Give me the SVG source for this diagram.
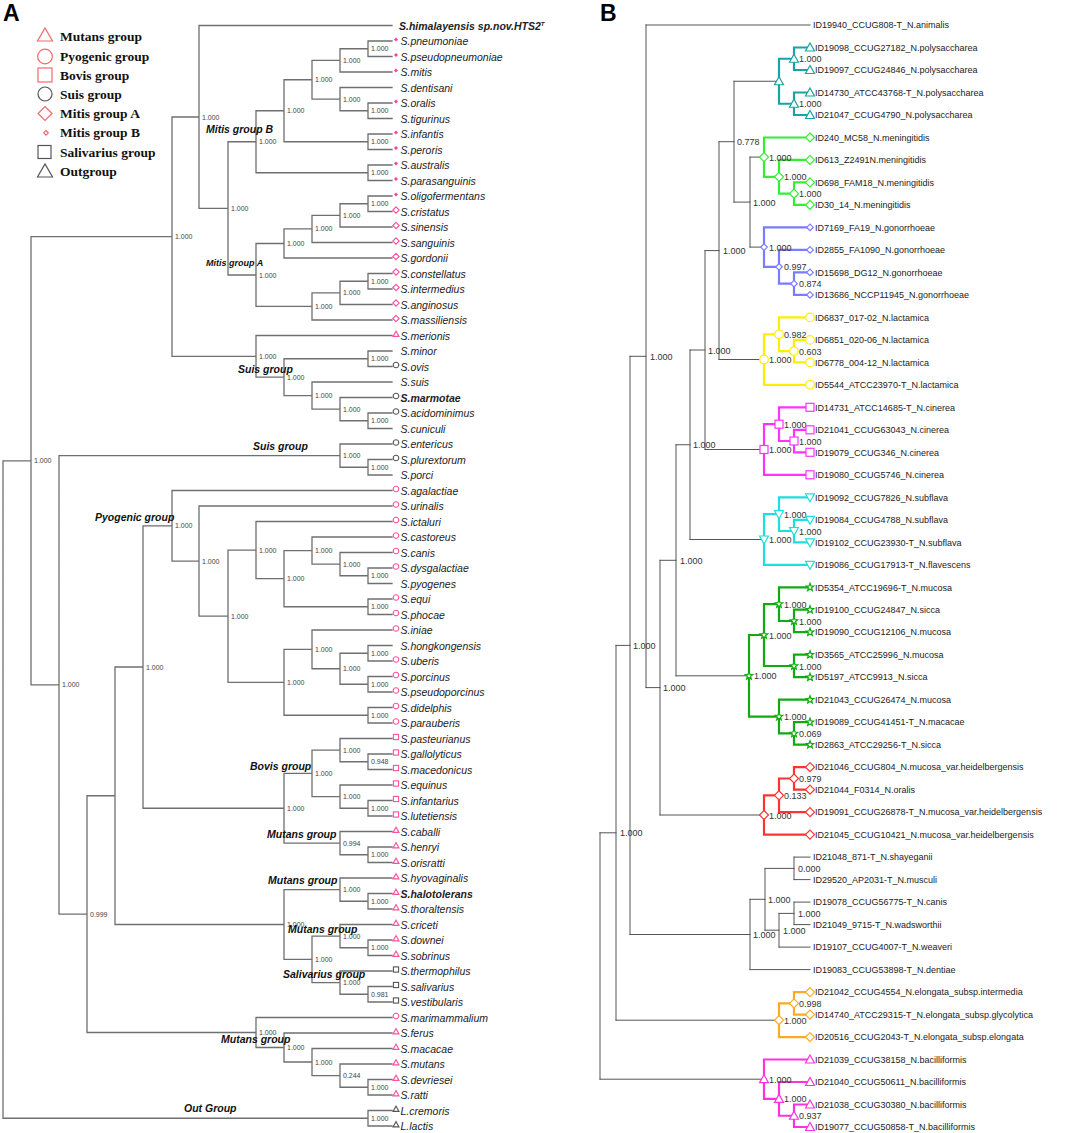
<svg xmlns="http://www.w3.org/2000/svg" xmlns:xlink="http://www.w3.org/1999/xlink" width="1079" height="1133" viewBox="0 0 1079 1133">
<style>
.bg{fill:#fff}
.pl{font:bold 23px "Liberation Sans",Arial,sans-serif;fill:#000}
.lg{font:bold 13.5px "Liberation Serif","Times New Roman",serif;fill:#111}
.ta{fill:none;stroke:#6f6f6f;stroke-width:1.3;stroke-linecap:square}
.tb{fill:none;stroke:#555;stroke-width:1;stroke-linecap:square}
.cl{fill:none;stroke-width:2.2;stroke-linecap:square}
.la{font:italic 10.5px "Liberation Sans",Arial,sans-serif;fill:#222}
.bd{font-weight:bold}
.sa{font:7px "Liberation Sans",Arial,sans-serif;fill:#444}
.ga{font:bold italic 10.5px "Liberation Sans",Arial,sans-serif;fill:#111}
.lb{font:9px "Liberation Sans",Arial,sans-serif;fill:#222}
.sb{font:9px "Liberation Sans",Arial,sans-serif;fill:#333}
.am{fill:#fff;stroke-width:1.1}
.pk{stroke:#ff4f9f}
.gy{stroke:#555}
.pdot{fill:#ff3d9a;stroke:none}
.mk{fill:#fff;stroke-width:1.2}
.teal{stroke:#1aa3a3}
.men{stroke:#33ee33}
.gon{stroke:#7b7bff}
.lac{stroke:#ffee00}
.cin{stroke:#ff33ff}
.sub{stroke:#22dddd}
.muc{stroke:#11aa11}
.red{stroke:#ff3333}
.ora{stroke:#ffaa22}
.bac{stroke:#ff33dd}
</style>
<defs>
<path id="a-dot" d="M0,-2L2,0L0,2L-2,0Z"/>
<path id="a-dia" d="M0,-3.2L3.2,0L0,3.2L-3.2,0Z"/>
<path id="a-tri" d="M-3,2.4L3,2.4L0,-2.8Z"/>
<circle id="a-cir" r="2.8"/>
<rect id="a-sq" x="-2.6" y="-2.6" width="5.2" height="5.2"/>
<path id="b-tri" d="M0,-4.5L4.5,3.5L-4.5,3.5Z"/>
<path id="b-itri" d="M0,4.5L4.5,-3.5L-4.5,-3.5Z"/>
<path id="b-dia" d="M0,-4.5L4.5,0L0,4.5L-4.5,0Z"/>
<path id="b-sdia" d="M0,-3.3L3.3,0L0,3.3L-3.3,0Z"/>
<circle id="b-cir" r="4.3"/>
<rect id="b-sq" x="-4" y="-4" width="8" height="8"/>
<path id="b-star" d="M0,-4L1,-1.38L3.8,-1.24L1.62,0.53L2.35,3.24L0,1.7L-2.35,3.24L-1.62,0.53L-3.8,-1.24L-1,-1.38Z"/>
</defs>
<rect class="bg" x="0" y="0" width="1079" height="1133"/>
<text class="pl" x="3" y="21">A</text>
<text class="pl" x="600" y="21">B</text>

<g id="legend">
<polygon points="37.5,41 52.5,41 45,28" fill="none" stroke="#f26a6a" stroke-width="1.2"/>
<text class="lg" x="60" y="40.5">Mutans group</text>
<circle cx="45" cy="56.5" r="7.3" fill="none" stroke="#f26a6a" stroke-width="1.2"/>
<text class="lg" x="60" y="60.5">Pyogenic group</text>
<rect x="38" y="68" width="14" height="14" fill="none" stroke="#f26a6a" stroke-width="1.2"/>
<text class="lg" x="60" y="79.5">Bovis group</text>
<circle cx="45" cy="94" r="7" fill="none" stroke="#555" stroke-width="1.2"/>
<text class="lg" x="60" y="98.5">Suis group</text>
<polygon points="45,106.5 52,113.5 45,120.5 38,113.5" fill="none" stroke="#f26a6a" stroke-width="1.2"/>
<text class="lg" x="60" y="117.5">Mitis group A</text>
<polygon points="46,130.5 48.3,132.8 46,135.1 43.7,132.8" fill="none" stroke="#f26a6a" stroke-width="1.2"/>
<text class="lg" x="60" y="136.5">Mitis group B</text>
<rect x="38" y="145.5" width="13" height="13" fill="none" stroke="#555" stroke-width="1.2"/>
<text class="lg" x="60" y="156.5">Salivarius group</text>
<polygon points="37.5,177 52.5,177 45,164" fill="none" stroke="#555" stroke-width="1.2"/>
<text class="lg" x="60" y="175.5">Outgroup</text>
</g>

<g id="a-edges">
<path class="ta" d="M3,460.8V1118.25
M3,460.8H31M31,236.7V684.9
M31,236.7H172M172,117V356.4
M172,117H199M199,25.5V208.4
M199,25.5H392
M199,208.4H228M228,141.75V275
M228,141.75H256M256,110.75V172.75
M256,110.75H284M284,79.75V141.75
M284,79.75H312M312,60.4V99.1
M312,60.4H340M340,48.75V72
M340,48.75H368M368,41V56.5M368,41H392M368,56.5H392
M340,72H392
M312,99.1H340M340,87.5V110.75M340,87.5H392
M340,110.75H368M368,103V118.5M368,103H392M368,118.5H392
M284,141.75H368M368,134V149.5M368,134H392M368,149.5H392
M256,172.75H368M368,165V180.5M368,165H392M368,180.5H392
M228,275H256M256,243.5V306.4
M256,243.5H284M284,228.9V258M284,258H392
M284,228.9H312M312,215.4V242.5M312,242.5H392
M312,215.4H340M340,203.75V227M340,227H392
M340,203.75H368M368,196V211.5M368,196H392M368,211.5H392
M256,306.4H312M312,292.9V320M312,320H392
M312,292.9H340M340,281.25V304.5M340,304.5H392
M340,281.25H368M368,273.5V289M368,273.5H392M368,289H392
M172,356.4H256M256,335.5V377.2M256,335.5H392
M256,377.2H284M284,358.75V395.6
M284,358.75H368M368,351V366.5M368,351H392M368,366.5H392
M284,395.6H312M312,382V409.1M312,382H392
M312,409.1H340M340,397.5V420.75M340,397.5H392
M340,420.75H368M368,413V428.5M368,413H392M368,428.5H392
M31,684.9H59M59,455.6V914.1
M59,455.6H340M340,444V467.25M340,444H392
M340,467.25H368M368,459.5V475M368,459.5H392M368,475H392
M59,914.1H87M87,795.75V1032.5
M87,795.75H115M115,667V924.5
M115,667H143M143,525.8V808.25
M143,525.8H172M172,490.5V561.1M172,490.5H392
M172,561.1H199M199,506V616.2M199,506H392
M199,616.2H228M228,550.1V682.3
M228,550.1H256M256,521.5V578.7M256,521.5H392
M256,578.7H284M284,550.6V606.75
M284,550.6H312M312,537V564.1M312,537H392
M312,564.1H340M340,552.5V575.75M340,552.5H392
M340,575.75H368M368,568V583.5M368,568H392M368,583.5H392
M284,606.75H368M368,599V614.5M368,599H392M368,614.5H392
M228,682.3H284M284,649.4V715.25
M284,649.4H312M312,630V668.75M312,630H392
M312,668.75H340M340,653.25V684.25
M340,653.25H368M368,645.5V661M368,645.5H392M368,661H392
M340,684.25H368M368,676.5V692M368,676.5H392M368,692H392
M284,715.25H368M368,707.5V723M368,707.5H392M368,723H392
M143,808.25H284M284,773.4V843.1
M284,773.4H312M312,750.1V796.6
M312,750.1H340M340,738.5V761.75M340,738.5H392
M340,761.75H368M368,754V769.5M368,754H392M368,769.5H392
M312,796.6H340M340,785V808.25M340,785H392
M340,808.25H368M368,800.5V816M368,800.5H392M368,816H392
M284,843.1H340M340,831.5V854.75M340,831.5H392
M340,854.75H368M368,847V862.5M368,847H392M368,862.5H392
M115,924.5H284M284,889.6V959.4
M284,889.6H340M340,878V901.25M340,878H392
M340,901.25H368M368,893.5V909M368,893.5H392M368,909H392
M284,959.4H312M312,936.1V982.6
M312,936.1H340M340,924.5V947.75M340,924.5H392
M340,947.75H368M368,940V955.5M368,940H392M368,955.5H392
M312,982.6H340M340,971V994.25M340,971H392
M340,994.25H368M368,986.5V1002M368,986.5H392M368,1002H392
M87,1032.5H256M256,1017.5V1047.5M256,1017.5H392
M256,1047.5H284M284,1033V1062M284,1033H392
M284,1062H312M312,1048.5V1075.6M312,1048.5H392
M312,1075.6H340M340,1064V1087.25M340,1064H392
M340,1087.25H368M368,1079.5V1095M368,1079.5H392M368,1095H392
M3,1118.25H368M368,1110.5V1126M368,1110.5H392M368,1126H392"/>
</g>

<g id="a-support">
<text class="sa" x="371" y="51.2">1.000</text>
<text class="sa" x="343" y="62.9">1.000</text>
<text class="sa" x="371" y="113.2">1.000</text>
<text class="sa" x="343" y="101.6">1.000</text>
<text class="sa" x="315" y="82.2">1.000</text>
<text class="sa" x="371" y="144.2">1.000</text>
<text class="sa" x="287" y="113.2">1.000</text>
<text class="sa" x="371" y="175.2">1.000</text>
<text class="sa" x="259" y="144.2">1.000</text>
<text class="sa" x="371" y="206.2">1.000</text>
<text class="sa" x="343" y="217.9">1.000</text>
<text class="sa" x="315" y="231.4">1.000</text>
<text class="sa" x="287" y="246">1.000</text>
<text class="sa" x="371" y="283.7">1.000</text>
<text class="sa" x="343" y="295.4">1.000</text>
<text class="sa" x="315" y="308.9">1.000</text>
<text class="sa" x="259" y="277.5">1.000</text>
<text class="sa" x="231" y="210.9">1.000</text>
<text class="sa" x="202" y="119.5">1.000</text>
<text class="sa" x="371" y="361.2">1.000</text>
<text class="sa" x="371" y="423.2">1.000</text>
<text class="sa" x="343" y="411.6">1.000</text>
<text class="sa" x="315" y="398.1">1.000</text>
<text class="sa" x="287" y="379.7">1.000</text>
<text class="sa" x="259" y="358.9">1.000</text>
<text class="sa" x="175" y="239.2">1.000</text>
<text class="sa" x="371" y="469.7">1.000</text>
<text class="sa" x="343" y="458.1">1.000</text>
<text class="sa" x="371" y="578.2">1.000</text>
<text class="sa" x="343" y="566.6">1.000</text>
<text class="sa" x="315" y="553.1">1.000</text>
<text class="sa" x="371" y="609.2">1.000</text>
<text class="sa" x="287" y="581.2">1.000</text>
<text class="sa" x="259" y="552.6">1.000</text>
<text class="sa" x="371" y="655.7">1.000</text>
<text class="sa" x="371" y="686.7">1.000</text>
<text class="sa" x="343" y="671.2">1.000</text>
<text class="sa" x="315" y="651.9">1.000</text>
<text class="sa" x="371" y="717.7">1.000</text>
<text class="sa" x="287" y="684.8">1.000</text>
<text class="sa" x="231" y="618.7">1.000</text>
<text class="sa" x="202" y="563.6">1.000</text>
<text class="sa" x="175" y="528.3">1.000</text>
<text class="sa" x="371" y="764.2">0.948</text>
<text class="sa" x="343" y="752.6">1.000</text>
<text class="sa" x="371" y="810.7">1.000</text>
<text class="sa" x="343" y="799.1">1.000</text>
<text class="sa" x="315" y="775.9">1.000</text>
<text class="sa" x="371" y="857.2">1.000</text>
<text class="sa" x="343" y="845.6">0.994</text>
<text class="sa" x="287" y="810.7">1.000</text>
<text class="sa" x="146" y="669.5">1.000</text>
<text class="sa" x="371" y="903.7">1.000</text>
<text class="sa" x="343" y="892.1">1.000</text>
<text class="sa" x="371" y="950.2">1.000</text>
<text class="sa" x="343" y="938.6">1.000</text>
<text class="sa" x="371" y="996.7">0.981</text>
<text class="sa" x="343" y="985.1">1.000</text>
<text class="sa" x="315" y="961.9">1.000</text>
<text class="sa" x="287" y="927">1.000</text>
<text class="sa" x="371" y="1089.7">1.000</text>
<text class="sa" x="343" y="1078.1">0.244</text>
<text class="sa" x="315" y="1064.5">1.000</text>
<text class="sa" x="287" y="1050">1.000</text>
<text class="sa" x="259" y="1035">1.000</text>
<text class="sa" x="90" y="916.6">0.999</text>
<text class="sa" x="62" y="687.4">1.000</text>
<text class="sa" x="34" y="463.3">1.000</text>
<text class="sa" x="371" y="1120.7">1.000</text>
</g>

<g id="a-groups">
<text class="ga" x="206" y="132.5">Mitis group B</text>
<text class="ga" x="206" y="266" style="font-size:9px">Mitis group A</text>
<text class="ga" x="238" y="372.5">Suis group</text>
<text class="ga" x="253" y="449.5">Suis group</text>
<text class="ga" x="95" y="520.5">Pyogenic group</text>
<text class="ga" x="250" y="769.5">Bovis group</text>
<text class="ga" x="267" y="837.5">Mutans group</text>
<text class="ga" x="268" y="883.5">Mutans group</text>
<text class="ga" x="288" y="932.5">Mutans group</text>
<text class="ga" x="283" y="977.5">Salivarius group</text>
<text class="ga" x="221" y="1042.5">Mutans group</text>
<text class="ga" x="184" y="1111.5">Out Group</text>
</g>

<g id="a-leaves">
<g id="a-himalayensis"><text class="la bd" x="399" y="29.5">S.himalayensis sp.nov.HTS2<tspan dy="-4" style="font-size:6px">T</tspan></text></g>
<g id="a-pneumoniae"><use href="#a-dot" class="pdot" x="396" y="39.5"/><text class="la" x="400.5" y="45">S.pneumoniae</text></g>
<g id="a-pseudopneumoniae"><use href="#a-dot" class="pdot" x="396" y="55"/><text class="la" x="400.5" y="60.5">S.pseudopneumoniae</text></g>
<g id="a-mitis"><use href="#a-dot" class="pdot" x="396" y="70.5"/><text class="la" x="400.5" y="76">S.mitis</text></g>
<g id="a-dentisani"><text class="la" x="400.5" y="91.5">S.dentisani</text></g>
<g id="a-oralis"><use href="#a-dot" class="pdot" x="396" y="101.5"/><text class="la" x="400.5" y="107">S.oralis</text></g>
<g id="a-tigurinus"><text class="la" x="400.5" y="122.5">S.tigurinus</text></g>
<g id="a-infantis"><use href="#a-dot" class="pdot" x="396" y="132.5"/><text class="la" x="400.5" y="138">S.infantis</text></g>
<g id="a-peroris"><use href="#a-dot" class="pdot" x="396" y="148"/><text class="la" x="400.5" y="153.5">S.peroris</text></g>
<g id="a-australis"><use href="#a-dot" class="pdot" x="396" y="163.5"/><text class="la" x="400.5" y="169">S.australis</text></g>
<g id="a-parasanguinis"><use href="#a-dot" class="pdot" x="396" y="179"/><text class="la" x="400.5" y="184.5">S.parasanguinis</text></g>
<g id="a-oligofermentans"><use href="#a-dot" class="pdot" x="396" y="194.5"/><text class="la" x="400.5" y="200">S.oligofermentans</text></g>
<g id="a-cristatus"><use href="#a-dia" class="am pk" x="396" y="210"/><text class="la" x="400.5" y="215.5">S.cristatus</text></g>
<g id="a-sinensis"><use href="#a-dia" class="am pk" x="396" y="225.5"/><text class="la" x="400.5" y="231">S.sinensis</text></g>
<g id="a-sanguinis"><use href="#a-dia" class="am pk" x="396" y="241"/><text class="la" x="400.5" y="246.5">S.sanguinis</text></g>
<g id="a-gordonii"><use href="#a-dia" class="am pk" x="396" y="256.5"/><text class="la" x="400.5" y="262">S.gordonii</text></g>
<g id="a-constellatus"><use href="#a-dia" class="am pk" x="396" y="272"/><text class="la" x="400.5" y="277.5">S.constellatus</text></g>
<g id="a-intermedius"><use href="#a-dia" class="am pk" x="396" y="287.5"/><text class="la" x="400.5" y="293">S.intermedius</text></g>
<g id="a-anginosus"><use href="#a-dia" class="am pk" x="396" y="303"/><text class="la" x="400.5" y="308.5">S.anginosus</text></g>
<g id="a-massiliensis"><use href="#a-dia" class="am pk" x="396" y="318.5"/><text class="la" x="400.5" y="324">S.massiliensis</text></g>
<g id="a-merionis"><use href="#a-tri" class="am pk" x="396" y="334"/><text class="la" x="400.5" y="339.5">S.merionis</text></g>
<g id="a-minor"><text class="la" x="400.5" y="355">S.minor</text></g>
<g id="a-ovis"><use href="#a-cir" class="am gy" x="396" y="365"/><text class="la" x="400.5" y="370.5">S.ovis</text></g>
<g id="a-suis"><text class="la" x="400.5" y="386">S.suis</text></g>
<g id="a-marmotae"><use href="#a-cir" class="am gy" x="396" y="396"/><text class="la bd" x="400.5" y="401.5">S.marmotae</text></g>
<g id="a-acidominimus"><use href="#a-cir" class="am gy" x="396" y="411.5"/><text class="la" x="400.5" y="417">S.acidominimus</text></g>
<g id="a-cuniculi"><text class="la" x="400.5" y="432.5">S.cuniculi</text></g>
<g id="a-entericus"><use href="#a-cir" class="am gy" x="396" y="442.5"/><text class="la" x="400.5" y="448">S.entericus</text></g>
<g id="a-plurextorum"><use href="#a-cir" class="am gy" x="396" y="458"/><text class="la" x="400.5" y="463.5">S.plurextorum</text></g>
<g id="a-porci"><text class="la" x="400.5" y="479">S.porci</text></g>
<g id="a-agalactiae"><use href="#a-cir" class="am pk" x="396" y="489"/><text class="la" x="400.5" y="494.5">S.agalactiae</text></g>
<g id="a-urinalis"><use href="#a-cir" class="am pk" x="396" y="504.5"/><text class="la" x="400.5" y="510">S.urinalis</text></g>
<g id="a-ictaluri"><use href="#a-cir" class="am pk" x="396" y="520"/><text class="la" x="400.5" y="525.5">S.ictaluri</text></g>
<g id="a-castoreus"><use href="#a-cir" class="am pk" x="396" y="535.5"/><text class="la" x="400.5" y="541">S.castoreus</text></g>
<g id="a-canis"><use href="#a-cir" class="am pk" x="396" y="551"/><text class="la" x="400.5" y="556.5">S.canis</text></g>
<g id="a-dysgalactiae"><use href="#a-cir" class="am pk" x="396" y="566.5"/><text class="la" x="400.5" y="572">S.dysgalactiae</text></g>
<g id="a-pyogenes"><text class="la" x="400.5" y="587.5">S.pyogenes</text></g>
<g id="a-equi"><use href="#a-cir" class="am pk" x="396" y="597.5"/><text class="la" x="400.5" y="603">S.equi</text></g>
<g id="a-phocae"><use href="#a-cir" class="am pk" x="396" y="613"/><text class="la" x="400.5" y="618.5">S.phocae</text></g>
<g id="a-iniae"><use href="#a-cir" class="am pk" x="396" y="628.5"/><text class="la" x="400.5" y="634">S.iniae</text></g>
<g id="a-hongkongensis"><text class="la" x="400.5" y="649.5">S.hongkongensis</text></g>
<g id="a-uberis"><use href="#a-cir" class="am pk" x="396" y="659.5"/><text class="la" x="400.5" y="665">S.uberis</text></g>
<g id="a-porcinus"><use href="#a-cir" class="am pk" x="396" y="675"/><text class="la" x="400.5" y="680.5">S.porcinus</text></g>
<g id="a-pseudoporcinus"><use href="#a-cir" class="am pk" x="396" y="690.5"/><text class="la" x="400.5" y="696">S.pseudoporcinus</text></g>
<g id="a-didelphis"><use href="#a-cir" class="am pk" x="396" y="706"/><text class="la" x="400.5" y="711.5">S.didelphis</text></g>
<g id="a-parauberis"><use href="#a-cir" class="am pk" x="396" y="721.5"/><text class="la" x="400.5" y="727">S.parauberis</text></g>
<g id="a-pasteurianus"><use href="#a-sq" class="am pk" x="396" y="737"/><text class="la" x="400.5" y="742.5">S.pasteurianus</text></g>
<g id="a-gallolyticus"><use href="#a-sq" class="am pk" x="396" y="752.5"/><text class="la" x="400.5" y="758">S.gallolyticus</text></g>
<g id="a-macedonicus"><use href="#a-sq" class="am pk" x="396" y="768"/><text class="la" x="400.5" y="773.5">S.macedonicus</text></g>
<g id="a-equinus"><use href="#a-sq" class="am pk" x="396" y="783.5"/><text class="la" x="400.5" y="789">S.equinus</text></g>
<g id="a-infantarius"><use href="#a-sq" class="am pk" x="396" y="799"/><text class="la" x="400.5" y="804.5">S.infantarius</text></g>
<g id="a-lutetiensis"><use href="#a-sq" class="am pk" x="396" y="814.5"/><text class="la" x="400.5" y="820">S.lutetiensis</text></g>
<g id="a-caballi"><use href="#a-tri" class="am pk" x="396" y="830"/><text class="la" x="400.5" y="835.5">S.caballi</text></g>
<g id="a-henryi"><use href="#a-tri" class="am pk" x="396" y="845.5"/><text class="la" x="400.5" y="851">S.henryi</text></g>
<g id="a-orisratti"><use href="#a-tri" class="am pk" x="396" y="861"/><text class="la" x="400.5" y="866.5">S.orisratti</text></g>
<g id="a-hyovaginalis"><use href="#a-tri" class="am pk" x="396" y="876.5"/><text class="la" x="400.5" y="882">S.hyovaginalis</text></g>
<g id="a-halotolerans"><use href="#a-tri" class="am pk" x="396" y="892"/><text class="la bd" x="400.5" y="897.5">S.halotolerans</text></g>
<g id="a-thoraltensis"><use href="#a-tri" class="am pk" x="396" y="907.5"/><text class="la" x="400.5" y="913">S.thoraltensis</text></g>
<g id="a-criceti"><use href="#a-tri" class="am pk" x="396" y="923"/><text class="la" x="400.5" y="928.5">S.criceti</text></g>
<g id="a-downei"><use href="#a-tri" class="am pk" x="396" y="938.5"/><text class="la" x="400.5" y="944">S.downei</text></g>
<g id="a-sobrinus"><use href="#a-tri" class="am pk" x="396" y="954"/><text class="la" x="400.5" y="959.5">S.sobrinus</text></g>
<g id="a-thermophilus"><use href="#a-sq" class="am gy" x="396" y="969.5"/><text class="la" x="400.5" y="975">S.thermophilus</text></g>
<g id="a-salivarius"><use href="#a-sq" class="am gy" x="396" y="985"/><text class="la" x="400.5" y="990.5">S.salivarius</text></g>
<g id="a-vestibularis"><use href="#a-sq" class="am gy" x="396" y="1000.5"/><text class="la" x="400.5" y="1006">S.vestibularis</text></g>
<g id="a-marimammalium"><use href="#a-cir" class="am pk" x="396" y="1016"/><text class="la" x="400.5" y="1021.5">S.marimammalium</text></g>
<g id="a-ferus"><use href="#a-tri" class="am pk" x="396" y="1031.5"/><text class="la" x="400.5" y="1037">S.ferus</text></g>
<g id="a-macacae"><use href="#a-tri" class="am pk" x="396" y="1047"/><text class="la" x="400.5" y="1052.5">S.macacae</text></g>
<g id="a-mutans"><use href="#a-tri" class="am pk" x="396" y="1062.5"/><text class="la" x="400.5" y="1068">S.mutans</text></g>
<g id="a-devriesei"><use href="#a-tri" class="am pk" x="396" y="1078"/><text class="la" x="400.5" y="1083.5">S.devriesei</text></g>
<g id="a-ratti"><use href="#a-tri" class="am pk" x="396" y="1093.5"/><text class="la" x="400.5" y="1099">S.ratti</text></g>
<g id="a-cremoris"><use href="#a-tri" class="am gy" x="396" y="1109"/><text class="la" x="400.5" y="1114.5">L.cremoris</text></g>
<g id="a-lactis"><use href="#a-tri" class="am gy" x="396" y="1124.5"/><text class="la" x="400.5" y="1130">L.lactis</text></g>
</g>

<g id="b-edges">
<path class="tb" d="M600,832.8V1079.2
M600,832.8H616M616,645.4V1020.2
M616,645.4H630M630,356.3V934.5
M630,356.3H646M646,25V687.6
M646,25H810
M646,687.6H660M660,560.3V815
M660,560.3H676M676,444.75V675.8
M676,444.75H690M690,350V539.5
M690,350H705M705,250.6V449.5
M705,250.6H719M719,141.7V359.5
M719,141.7H734M734,81.25V202.1
M734,202.1H750M750,157.1V247.1
M734,81.25H779M750,157.1H764M750,247.1H764M719,359.5H764M705,449.5H764M690,539.5H764M676,675.8H749M660,815H764M616,1020.2H779M600,1079.2H764
M630,934.5H750M750,899.3V969.6M750,969.6H810
M750,899.3H765M765,868.4V930.2
M765,868.4H794M794,857.1V879.6M794,857.1H810M794,879.6H810
M765,930.2H779M779,913.4V947.1M779,947.1H810
M779,913.4H794M794,902.1V924.6M794,902.1H810M794,924.6H810"/>
<path class="cl teal" d="M779,58.75V103.75M779,58.75H794M779,103.75H794M794,47.5V70M794,92.5V115M794,47.5H810M794,70H810M794,92.5H810M794,115H810"/>
<path class="cl men" d="M764,137.5V176.8M764,137.5H810M764,176.8H779M779,159.9V193.65M779,159.9H810M779,193.65H794M794,182.4V204.9M794,182.4H810M794,204.9H810"/>
<path class="cl gon" d="M764,227.4V266.8M764,227.4H810M764,266.8H779M779,249.9V283.65M779,249.9H810M779,283.65H794M794,272.4V294.9M794,272.4H810M794,294.9H810"/>
<path class="cl lac" d="M764,334.3V384.8M764,334.3H779M764,384.8H810M779,317.4V351.1M779,317.4H810M779,351.1H794M794,339.9V362.4M794,339.9H810M794,362.4H810"/>
<path class="cl cin" d="M764,424.2V474.8M764,424.2H779M764,474.8H810M779,407.3V441M779,407.3H810M779,441H794M794,429.8V452.3M794,429.8H810M794,452.3H810"/>
<path class="cl sub" d="M764,514.2V564.8M764,514.2H779M764,564.8H810M779,497.3V531M779,497.3H810M779,531H794M794,519.8V542.3M794,519.8H810M794,542.3H810"/>
<path class="cl muc" d="M749,635V716.6M749,635H764M749,716.6H779M764,604.1V666M764,604.1H779M764,666H794M779,587.3V621M779,587.3H810M779,621H794M794,609.7V632.2M794,609.7H810M794,632.2H810M794,654.7V677.2M794,654.7H810M794,677.2H810M779,699.7V733.4M779,699.7H810M779,733.4H794M794,722.2V744.7M794,722.2H810M794,744.7H810"/>
<path class="cl red" d="M764,795.3V834.6M764,795.3H779M764,834.6H810M779,778.5V812.2M779,778.5H794M779,812.2H810M794,767.2V789.7M794,767.2H810M794,789.7H810"/>
<path class="cl ora" d="M779,1003.4V1037.1M779,1003.4H794M779,1037.1H810M794,992.1V1014.6M794,992.1H810M794,1014.6H810"/>
<path class="cl bac" d="M764,1059.5V1098.9M764,1059.5H810M764,1098.9H779M779,1082V1115.75M779,1082H810M779,1115.75H794M794,1104.5V1127M794,1104.5H810M794,1127H810"/>
</g>

<g id="b-internal">
<use href="#b-tri" class="mk teal" x="779" y="81.25"/>
<use href="#b-tri" class="mk teal" x="794" y="58.75"/><text class="sb" x="799" y="62.2">1.000</text>
<use href="#b-tri" class="mk teal" x="794" y="103.75"/><text class="sb" x="799" y="107.2">1.000</text>
<use href="#b-dia" class="mk men" x="764" y="157.1"/><text class="sb" x="769" y="160.6">1.000</text>
<use href="#b-dia" class="mk men" x="779" y="176.8"/><text class="sb" x="784" y="180.3">1.000</text>
<use href="#b-dia" class="mk men" x="794" y="193.65"/><text class="sb" x="799" y="197.1">1.000</text>
<use href="#b-sdia" class="mk gon" x="764" y="247.1"/><text class="sb" x="769" y="250.6">1.000</text>
<use href="#b-sdia" class="mk gon" x="779" y="266.8"/><text class="sb" x="784" y="270.3">0.997</text>
<use href="#b-sdia" class="mk gon" x="794" y="283.65"/><text class="sb" x="799" y="287.1">0.874</text>
<use href="#b-cir" class="mk lac" x="764" y="359.5"/><text class="sb" x="769" y="363">1.000</text>
<use href="#b-cir" class="mk lac" x="779" y="334.3"/><text class="sb" x="784" y="337.8">0.982</text>
<use href="#b-cir" class="mk lac" x="794" y="351.1"/><text class="sb" x="799" y="354.6">0.603</text>
<use href="#b-sq" class="mk cin" x="764" y="449.5"/><text class="sb" x="769" y="453">1.000</text>
<use href="#b-sq" class="mk cin" x="779" y="424.2"/><text class="sb" x="784" y="427.7">1.000</text>
<use href="#b-sq" class="mk cin" x="794" y="441"/><text class="sb" x="799" y="444.5">1.000</text>
<use href="#b-itri" class="mk sub" x="764" y="539.5"/><text class="sb" x="769" y="543">1.000</text>
<use href="#b-itri" class="mk sub" x="779" y="514.2"/><text class="sb" x="784" y="517.7">1.000</text>
<use href="#b-itri" class="mk sub" x="794" y="531"/><text class="sb" x="799" y="534.5">1.000</text>
<use href="#b-star" class="mk muc" x="749" y="675.8"/><text class="sb" x="754" y="679.3">1.000</text>
<use href="#b-star" class="mk muc" x="764" y="635"/><text class="sb" x="769" y="638.5">1.000</text>
<use href="#b-star" class="mk muc" x="779" y="604.1"/><text class="sb" x="784" y="607.6">1.000</text>
<use href="#b-star" class="mk muc" x="794" y="621"/><text class="sb" x="799" y="624.5">1.000</text>
<use href="#b-star" class="mk muc" x="794" y="666"/><text class="sb" x="799" y="669.5">1.000</text>
<use href="#b-star" class="mk muc" x="779" y="716.6"/><text class="sb" x="784" y="720.1">1.000</text>
<use href="#b-star" class="mk muc" x="794" y="733.4"/><text class="sb" x="799" y="736.9">0.069</text>
<use href="#b-dia" class="mk red" x="764" y="815"/><text class="sb" x="769" y="818.5">1.000</text>
<use href="#b-dia" class="mk red" x="779" y="795.3"/><text class="sb" x="784" y="798.8">0.133</text>
<use href="#b-dia" class="mk red" x="794" y="778.5"/><text class="sb" x="799" y="782">0.979</text>
<use href="#b-dia" class="mk ora" x="779" y="1020.2"/><text class="sb" x="784" y="1023.7">1.000</text>
<use href="#b-dia" class="mk ora" x="794" y="1003.4"/><text class="sb" x="799" y="1006.9">0.998</text>
<use href="#b-tri" class="mk bac" x="764" y="1079.2"/><text class="sb" x="769" y="1082.7">1.000</text>
<use href="#b-tri" class="mk bac" x="779" y="1098.9"/><text class="sb" x="784" y="1102.4">1.000</text>
<use href="#b-tri" class="mk bac" x="794" y="1115.75"/><text class="sb" x="799" y="1119.2">0.937</text>
<text class="sb" x="620" y="836.3">1.000</text>
<text class="sb" x="633" y="648.9">1.000</text>
<text class="sb" x="650" y="359.8">1.000</text>
<text class="sb" x="663" y="691.1">1.000</text>
<text class="sb" x="680" y="563.8">1.000</text>
<text class="sb" x="693" y="448.2">1.000</text>
<text class="sb" x="708" y="353.5">1.000</text>
<text class="sb" x="723" y="254.1">1.000</text>
<text class="sb" x="737" y="145.2">0.778</text>
<text class="sb" x="753" y="205.6">1.000</text>
<text class="sb" x="753" y="938">1.000</text>
<text class="sb" x="768" y="902.8">1.000</text>
<text class="sb" x="798" y="871.9">0.000</text>
<text class="sb" x="783" y="933.7">1.000</text>
<text class="sb" x="798" y="916.9">1.000</text>
</g>

<g id="b-leaves">
<g id="b-19940"><text class="lb" x="813" y="28.2">ID19940_CCUG808-T_N.animalis</text></g>
<g id="b-19098"><use href="#b-tri" class="mk teal" x="810" y="47.5"/><text class="lb" x="815" y="50.7">ID19098_CCUG27182_N.polysaccharea</text></g>
<g id="b-19097"><use href="#b-tri" class="mk teal" x="810" y="70"/><text class="lb" x="815" y="73.2">ID19097_CCUG24846_N.polysaccharea</text></g>
<g id="b-14730"><use href="#b-tri" class="mk teal" x="810" y="92.5"/><text class="lb" x="815" y="95.7">ID14730_ATCC43768-T_N.polysaccharea</text></g>
<g id="b-21047"><use href="#b-tri" class="mk teal" x="810" y="115"/><text class="lb" x="815" y="118.2">ID21047_CCUG4790_N.polysaccharea</text></g>
<g id="b-240"><use href="#b-dia" class="mk men" x="810" y="137.5"/><text class="lb" x="815" y="140.7">ID240_MC58_N.meningitidis</text></g>
<g id="b-613"><use href="#b-dia" class="mk men" x="810" y="159.9"/><text class="lb" x="815" y="163.1">ID613_Z2491N.meningitidis</text></g>
<g id="b-698"><use href="#b-dia" class="mk men" x="810" y="182.4"/><text class="lb" x="815" y="185.6">ID698_FAM18_N.meningitidis</text></g>
<g id="b-30"><use href="#b-dia" class="mk men" x="810" y="204.9"/><text class="lb" x="815" y="208.1">ID30_14_N.meningitidis</text></g>
<g id="b-7169"><use href="#b-sdia" class="mk gon" x="810" y="227.4"/><text class="lb" x="815" y="230.6">ID7169_FA19_N.gonorrhoeae</text></g>
<g id="b-2855"><use href="#b-sdia" class="mk gon" x="810" y="249.9"/><text class="lb" x="815" y="253.1">ID2855_FA1090_N.gonorrhoeae</text></g>
<g id="b-15698"><use href="#b-sdia" class="mk gon" x="810" y="272.4"/><text class="lb" x="815" y="275.6">ID15698_DG12_N.gonorrhoeae</text></g>
<g id="b-13686"><use href="#b-sdia" class="mk gon" x="810" y="294.9"/><text class="lb" x="815" y="298.1">ID13686_NCCP11945_N.gonorrhoeae</text></g>
<g id="b-6837"><use href="#b-cir" class="mk lac" x="810" y="317.4"/><text class="lb" x="815" y="320.6">ID6837_017-02_N.lactamica</text></g>
<g id="b-6851"><use href="#b-cir" class="mk lac" x="810" y="339.9"/><text class="lb" x="815" y="343.1">ID6851_020-06_N.lactamica</text></g>
<g id="b-6778"><use href="#b-cir" class="mk lac" x="810" y="362.4"/><text class="lb" x="815" y="365.6">ID6778_004-12_N.lactamica</text></g>
<g id="b-5544"><use href="#b-cir" class="mk lac" x="810" y="384.8"/><text class="lb" x="815" y="388">ID5544_ATCC23970-T_N.lactamica</text></g>
<g id="b-14731"><use href="#b-sq" class="mk cin" x="810" y="407.3"/><text class="lb" x="815" y="410.5">ID14731_ATCC14685-T_N.cinerea</text></g>
<g id="b-21041"><use href="#b-sq" class="mk cin" x="810" y="429.8"/><text class="lb" x="815" y="433">ID21041_CCUG63043_N.cinerea</text></g>
<g id="b-19079"><use href="#b-sq" class="mk cin" x="810" y="452.3"/><text class="lb" x="815" y="455.5">ID19079_CCUG346_N.cinerea</text></g>
<g id="b-19080"><use href="#b-sq" class="mk cin" x="810" y="474.8"/><text class="lb" x="815" y="478">ID19080_CCUG5746_N.cinerea</text></g>
<g id="b-19092"><use href="#b-itri" class="mk sub" x="810" y="497.3"/><text class="lb" x="815" y="500.5">ID19092_CCUG7826_N.subflava</text></g>
<g id="b-19084"><use href="#b-itri" class="mk sub" x="810" y="519.8"/><text class="lb" x="815" y="523">ID19084_CCUG4788_N.subflava</text></g>
<g id="b-19102"><use href="#b-itri" class="mk sub" x="810" y="542.3"/><text class="lb" x="815" y="545.5">ID19102_CCUG23930-T_N.subflava</text></g>
<g id="b-19086"><use href="#b-itri" class="mk sub" x="810" y="564.8"/><text class="lb" x="815" y="568">ID19086_CCUG17913-T_N.flavescens</text></g>
<g id="b-5354"><use href="#b-star" class="mk muc" x="810" y="587.3"/><text class="lb" x="815" y="590.5">ID5354_ATCC19696-T_N.mucosa</text></g>
<g id="b-19100"><use href="#b-star" class="mk muc" x="810" y="609.7"/><text class="lb" x="815" y="612.9">ID19100_CCUG24847_N.sicca</text></g>
<g id="b-19090"><use href="#b-star" class="mk muc" x="810" y="632.2"/><text class="lb" x="815" y="635.4">ID19090_CCUG12106_N.mucosa</text></g>
<g id="b-3565"><use href="#b-star" class="mk muc" x="810" y="654.7"/><text class="lb" x="815" y="657.9">ID3565_ATCC25996_N.mucosa</text></g>
<g id="b-5197"><use href="#b-star" class="mk muc" x="810" y="677.2"/><text class="lb" x="815" y="680.4">ID5197_ATCC9913_N.sicca</text></g>
<g id="b-21043"><use href="#b-star" class="mk muc" x="810" y="699.7"/><text class="lb" x="815" y="702.9">ID21043_CCUG26474_N.mucosa</text></g>
<g id="b-19089"><use href="#b-star" class="mk muc" x="810" y="722.2"/><text class="lb" x="815" y="725.4">ID19089_CCUG41451-T_N.macacae</text></g>
<g id="b-2863"><use href="#b-star" class="mk muc" x="810" y="744.7"/><text class="lb" x="815" y="747.9">ID2863_ATCC29256-T_N.sicca</text></g>
<g id="b-21046"><use href="#b-dia" class="mk red" x="810" y="767.2"/><text class="lb" x="815" y="770.4">ID21046_CCUG804_N.mucosa_var.heidelbergensis</text></g>
<g id="b-21044"><use href="#b-dia" class="mk red" x="810" y="789.7"/><text class="lb" x="815" y="792.9">ID21044_F0314_N.oralis</text></g>
<g id="b-19091"><use href="#b-dia" class="mk red" x="810" y="812.2"/><text class="lb" x="815" y="815.4">ID19091_CCUG26878-T_N.mucosa_var.heidelbergensis</text></g>
<g id="b-21045"><use href="#b-dia" class="mk red" x="810" y="834.6"/><text class="lb" x="815" y="837.8">ID21045_CCUG10421_N.mucosa_var.heidelbergensis</text></g>
<g id="b-21048"><text class="lb" x="813" y="860.3">ID21048_871-T_N.shayeganii</text></g>
<g id="b-29520"><text class="lb" x="813" y="882.8">ID29520_AP2031-T_N.musculi</text></g>
<g id="b-19078"><text class="lb" x="813" y="905.3">ID19078_CCUG56775-T_N.canis</text></g>
<g id="b-21049"><text class="lb" x="813" y="927.8">ID21049_9715-T_N.wadsworthii</text></g>
<g id="b-19107"><text class="lb" x="813" y="950.3">ID19107_CCUG4007-T_N.weaveri</text></g>
<g id="b-19083"><text class="lb" x="813" y="972.8">ID19083_CCUG53898-T_N.dentiae</text></g>
<g id="b-21042"><use href="#b-dia" class="mk ora" x="810" y="992.1"/><text class="lb" x="815" y="995.3">ID21042_CCUG4554_N.elongata_subsp.intermedia</text></g>
<g id="b-14740"><use href="#b-dia" class="mk ora" x="810" y="1014.6"/><text class="lb" x="815" y="1017.8">ID14740_ATCC29315-T_N.elongata_subsp.glycolytica</text></g>
<g id="b-20516"><use href="#b-dia" class="mk ora" x="810" y="1037.1"/><text class="lb" x="815" y="1040.3">ID20516_CCUG2043-T_N.elongata_subsp.elongata</text></g>
<g id="b-21039"><use href="#b-tri" class="mk bac" x="810" y="1059.5"/><text class="lb" x="815" y="1062.7">ID21039_CCUG38158_N.bacilliformis</text></g>
<g id="b-21040"><use href="#b-tri" class="mk bac" x="810" y="1082"/><text class="lb" x="815" y="1085.2">ID21040_CCUG50611_N.bacilliformis</text></g>
<g id="b-21038"><use href="#b-tri" class="mk bac" x="810" y="1104.5"/><text class="lb" x="815" y="1107.7">ID21038_CCUG30380_N.bacilliformis</text></g>
<g id="b-19077"><use href="#b-tri" class="mk bac" x="810" y="1127"/><text class="lb" x="815" y="1130.2">ID19077_CCUG50858-T_N.bacilliformis</text></g>
</g>
</svg>
